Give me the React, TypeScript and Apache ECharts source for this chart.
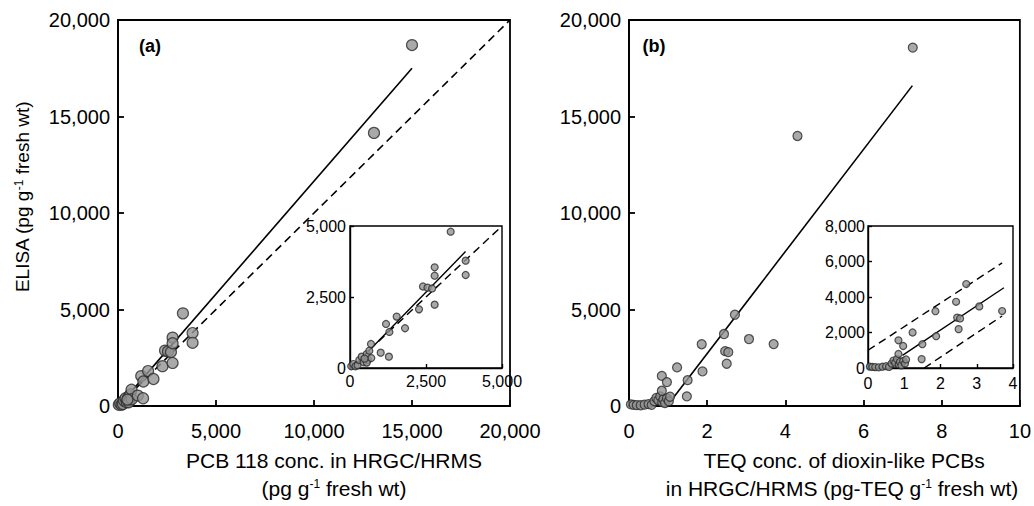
import React, { useEffect, useRef } from 'react';
import * as echarts from 'echarts';

// Panel (a): PCB 118 conc. (HRGC/HRMS) vs ELISA, pg/g fresh wt
const pcbPoints: [number, number][] = [
  [40, 60], [110, 140], [180, 60], [250, 100], [306, 280], [385, 400], [450, 200],
  [550, 490], [590, 280], [635, 610], [690, 845], [550, 190], [700, 350], [480, 330],
  [1010, 540], [1280, 400], [1185, 1550], [1295, 1270], [1535, 1810], [1810, 1400],
  [2270, 2065], [2400, 2870], [2550, 2830], [2700, 2800], [2785, 3545], [2785, 3250],
  [2785, 2230], [3312, 4800], [3805, 3780], [3805, 3275], [13060, 14150], [15000, 18700],
];
const pcbFitMain: [number, number][] = [[100, 70], [15000, 17500]];
const pcbIdentity: [number, number][] = [[0, 0], [20000, 20000]];
const pcbFitInset: [number, number][] = [[200, 140], [3800, 4100]];
const pcbIdentityInset: [number, number][] = [[0, 0], [4900, 4900]];

// Panel (b): TEQ conc. of dioxin-like PCBs vs ELISA
const teqPoints: [number, number][] = [
  [0.05, 80], [0.12, 60], [0.2, 50], [0.3, 40], [0.4, 70], [0.5, 100], [0.58, 60],
  [0.65, 250], [0.7, 420], [0.75, 300], [0.8, 500], [0.85, 200], [0.88, 350], [0.92, 150],
  [0.97, 400], [1.02, 250], [1.05, 480], [0.84, 790], [0.84, 1560], [0.97, 1240],
  [1.23, 2000], [1.5, 1340], [1.48, 500], [1.86, 3200], [1.88, 1790], [2.43, 3730],
  [2.46, 2840], [2.54, 2790], [2.5, 2190], [2.71, 4730], [3.07, 3470], [3.7, 3210],
  [4.31, 13990], [7.26, 18570],
];
const teqFitMain: [number, number][] = [[1.1, 340], [7.25, 16600]];
const teqFitInset: [number, number][] = [[0.95, 715], [3.75, 4520]];
const teqUpperInset: [number, number][] = [[0, 1000], [3.7, 5920]];
const teqLowerInset: [number, number][] = [[1.55, 0], [3.7, 2930]];

const mainYTicks = [0, 5000, 10000, 15000, 20000];

const FONT = '"Liberation Sans", Arial, Helvetica, sans-serif';
const fmt = (v: number) => v.toLocaleString('en-US');

function makeAxis(gridIndex: number, min: number, max: number, interval: number, fontSize: number, margin: number, tickLen: number, lw: number) {
  return {
    type: 'value',
    gridIndex,
    min,
    max,
    interval,
    axisLine: { show: true, onZero: false, lineStyle: { color: '#000', width: lw } },
    axisTick: { show: true, inside: true, length: tickLen, lineStyle: { color: '#000', width: lw } },
    splitLine: { show: false },
    axisLabel: {
      color: '#000',
      fontSize,
      fontFamily: FONT,
      margin,
      showMinLabel: true,
      showMaxLabel: true,
      formatter: (v: number) => fmt(v),
    },
  };
}

const dotStyle = { color: '#939393', borderColor: '#2b2b2b', borderWidth: 1.2 };

function lineSeries(data: [number, number][], idx: number, dashed: boolean, width: number) {
  return {
    type: 'line',
    xAxisIndex: idx,
    yAxisIndex: idx,
    data,
    showSymbol: false,
    symbol: 'none',
    silent: true,
    z: 3,
    lineStyle: { color: '#000', width, type: dashed ? [8, 5] : 'solid' },
  };
}

function scatterSeries(data: [number, number][], idx: number, size: number) {
  return {
    type: 'scatter',
    xAxisIndex: idx,
    yAxisIndex: idx,
    data,
    symbolSize: size,
    itemStyle: dotStyle,
    z: 4,
  };
}

export default function App() {
  const ref = useRef<HTMLDivElement>(null);
  useEffect(() => {
    document.body.style.margin = '0';
    const chart = echarts.init(ref.current!, undefined, { renderer: 'svg' });
    const textStyle = (text: string, size: number, bold = false) => ({
      text,
      fontSize: size,
      fontFamily: FONT,
      fontWeight: bold ? 'bold' : 'normal',
      fill: '#000',
      align: 'center',
      verticalAlign: 'middle',
      rich: {
        sup: { fontSize: 12, fontFamily: FONT, fill: '#000', verticalAlign: 'top', lineHeight: 12 },
      },
    });
    chart.setOption({
      animation: false,
      backgroundColor: '#fff',
      grid: [
        { left: 118, top: 20, width: 392, height: 386, show: true, borderColor: '#000', borderWidth: 1.8, backgroundColor: 'transparent' },
        { left: 350, top: 226, width: 152, height: 142, show: true, borderColor: '#000', borderWidth: 1.4, backgroundColor: '#fff' },
        { left: 629, top: 20, width: 393, height: 386, show: true, borderColor: '#000', borderWidth: 1.8, backgroundColor: 'transparent' },
        { left: 868, top: 226, width: 145, height: 142, show: true, borderColor: '#000', borderWidth: 1.4, backgroundColor: '#fff' },
      ],
      xAxis: [
        makeAxis(0, 0, 20000, 5000, 20, 15, 6, 1.8),
        makeAxis(1, 0, 5000, 2500, 16, 5, 4, 1.4),
        makeAxis(2, 0, 10, 2, 20, 15, 6, 1.8),
        makeAxis(3, 0, 4, 1, 16, 7, 4, 1.4),
      ],
      yAxis: [
        makeAxis(0, mainYTicks[0], mainYTicks[mainYTicks.length - 1], mainYTicks[1] - mainYTicks[0], 20, 8, 6, 1.8),
        makeAxis(1, 0, 5000, 2500, 16, 4, 4, 1.4),
        makeAxis(2, mainYTicks[0], mainYTicks[mainYTicks.length - 1], mainYTicks[1] - mainYTicks[0], 20, 8, 6, 1.8),
        makeAxis(3, 0, 8000, 2000, 16, 3, 4, 1.4),
      ],
      series: [
        lineSeries(pcbIdentity, 0, true, 1.6),
        lineSeries(pcbFitMain, 0, false, 1.6),
        scatterSeries(pcbPoints, 0, 11),
        lineSeries(pcbIdentityInset, 1, true, 1.4),
        lineSeries(pcbFitInset, 1, false, 1.4),
        scatterSeries(pcbPoints, 1, 7),
        lineSeries(teqFitMain, 2, false, 1.6),
        scatterSeries(teqPoints, 2, 9),
        lineSeries(teqFitInset, 3, false, 1.4),
        lineSeries(teqUpperInset, 3, true, 1.4),
        lineSeries(teqLowerInset, 3, true, 1.4),
        scatterSeries(teqPoints, 3, 7),
      ],
      graphic: [
        { type: 'text', x: 150, y: 46, style: textStyle('(a)', 18, true) },
        { type: 'text', x: 654, y: 46, style: textStyle('(b)', 18, true) },
        { type: 'text', x: 22, y: 197, rotation: Math.PI / 2, style: textStyle('ELISA (pg g{sup|-1} fresh wt)', 19) },
        { type: 'text', x: 334, y: 460, style: textStyle('PCB 118 conc. in HRGC/HRMS', 21) },
        { type: 'text', x: 334, y: 488, style: textStyle('(pg g{sup|-1} fresh wt)', 21) },
        { type: 'text', x: 844, y: 460, style: textStyle('TEQ conc. of dioxin-like PCBs', 21) },
        { type: 'text', x: 842, y: 488, style: textStyle('in HRGC/HRMS (pg-TEQ g{sup|-1} fresh wt)', 21) },
      ],
    });
    return () => chart.dispose();
  }, []);
  return <div ref={ref} style={{ width: 1034, height: 506 }} />;
}
